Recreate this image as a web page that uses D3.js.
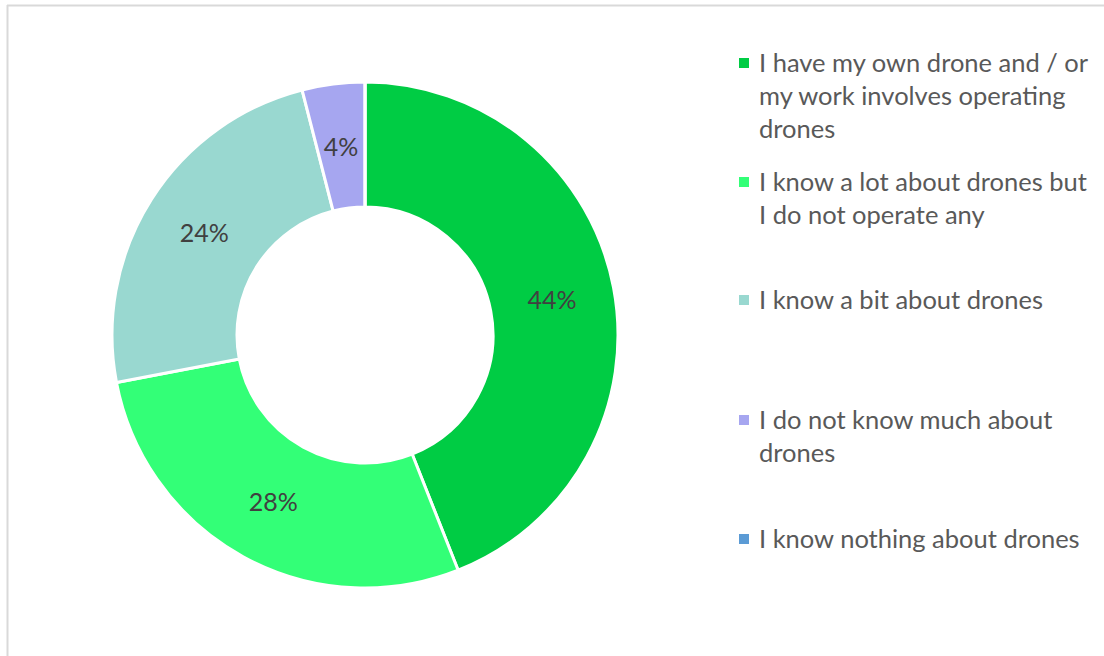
<!DOCTYPE html>
<html>
<head>
<meta charset="utf-8">
<script src="https://cdn.jsdelivr.net/npm/d3@7/dist/d3.min.js"></script>
<style>
  html, body { margin: 0; padding: 0; background: #fff; }
  svg { display: block; }
  text { font-family: Lato, "Open Sans", sans-serif; }
</style>
</head>
<body>
<svg id="chart" width="1104" height="656"></svg>
<script>
// Survey answers: familiarity with drones
const categories = [
  "I have my own drone and / or my work involves operating drones",
  "I know a lot about drones but I do not operate any",
  "I know a bit about drones",
  "I do not know much about drones",
  "I know nothing about drones"
];
const legendLines = [
  ["I have my own drone and / or", "my work involves operating", "drones"],
  ["I know a lot about drones but", "I do not operate any"],
  ["I know a bit about drones"],
  ["I do not know much about", "drones"],
  ["I know nothing about drones"]
];
const values = [44, 28, 24, 4, 0];
const colors = ["#00cc44", "#33ff77", "#99d8d0", "#a6a6f0", "#5b9bd5"];

const svg = d3.select("#chart");

// Frame edges
svg.append("line").attr("x1", 7.5).attr("x2", 7.5).attr("y1", 5).attr("y2", 656)
  .attr("stroke", "#d9d9d9").attr("stroke-width", 2);
svg.append("line").attr("x1", 7).attr("x2", 1104).attr("y1", 5.5).attr("y2", 5.5)
  .attr("stroke", "#d9d9d9").attr("stroke-width", 2);

const cx = 365, cy = 335, outerR = 253, innerR = 128;

const pie = d3.pie().sort(null).value(d => d)(values);
const arc = d3.arc().innerRadius(innerR).outerRadius(outerR);

const g = svg.append("g").attr("transform", `translate(${cx},${cy})`);

g.selectAll("path.slice")
  .data(pie)
  .join("path")
  .attr("class", "slice")
  .attr("d", arc)
  .attr("fill", (d, i) => colors[i])
  .attr("stroke", "#fff")
  .attr("stroke-width", 3)
  .attr("stroke-linejoin", "round");

g.selectAll("text.lbl")
  .data(pie.filter(d => d.value > 0))
  .join("text")
  .attr("class", "lbl")
  .attr("transform", d => `translate(${arc.centroid(d)})`)
  .attr("text-anchor", "middle")
  .attr("dy", "0.38em")
  .attr("fill", "#404040")
  .attr("font-size", 25)
  .text(d => d.value + "%");

// Legend
const legendX = 739, textX = 759;
const firstLineY = [63, 182, 300, 420, 539];
const lineGap = 33;

const items = svg.append("g").selectAll("g.item")
  .data(categories)
  .join("g")
  .attr("class", "item");

items.append("rect")
  .attr("x", legendX)
  .attr("y", (d, i) => firstLineY[i] - 5)
  .attr("width", 10)
  .attr("height", 10)
  .attr("fill", (d, i) => colors[i]);

items.each(function(d, i) {
  const t = d3.select(this).append("text")
    .attr("fill", "#595959")
    .attr("font-size", 25.5);
  legendLines[i].forEach((line, k) => {
    t.append("tspan")
      .attr("x", textX)
      .attr("y", firstLineY[i] + k * lineGap)
      .attr("dy", "0.35em")
      .text(line);
  });
});
</script>
</body>
</html>
